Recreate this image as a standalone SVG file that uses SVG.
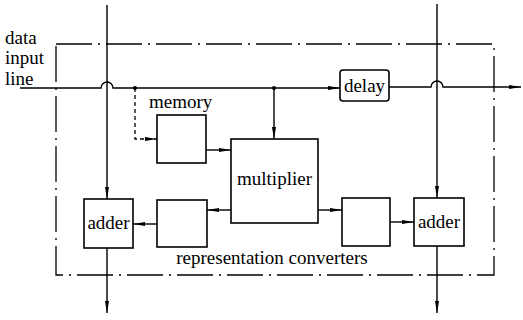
<svg xmlns="http://www.w3.org/2000/svg" width="523" height="320" viewBox="0 0 523 320">
<style>
.ln{fill:none;stroke:#000;stroke-width:1.4}
.box{fill:#fff;stroke:#000;stroke-width:1.6}
.frame{fill:none;stroke:#000;stroke-width:1.3;stroke-dasharray:36 6 2 6}
.dash{fill:none;stroke:#000;stroke-width:1.3;stroke-dasharray:4 3}
text{font-family:"Liberation Serif","Times New Roman",serif;font-size:19px;fill:#000}
</style>
<defs>
<marker id="ah" viewBox="0 0 12 6" refX="12" refY="3" markerWidth="12" markerHeight="6" markerUnits="userSpaceOnUse" orient="auto">
<path d="M0,1 L12,3 L0,5 Z" fill="#000"/>
</marker>
</defs>
<rect x="0" y="0" width="523" height="320" fill="#fff"/>
<path class="frame" d="M56,44 H494 V275 H56 Z"/>
<g id="labels">
<text x="5" y="44">data</text>
<text x="5" y="64">input</text>
<text x="5" y="85">line</text>
<text x="149" y="108">memory</text>
<text x="272" y="264" text-anchor="middle">representation converters</text>
</g>
<g id="connectors">
<path class="ln" d="M20,88 H101 A6,6 0 0 1 113,88 H340" marker-end="url(#ah)"/>
<path class="ln" d="M389,87 H431 A6,6 0 0 1 443,87 H521" marker-end="url(#ah)"/>
<path class="ln" d="M107,5 V199" marker-end="url(#ah)"/>
<path class="ln" d="M107,248 V313" marker-end="url(#ah)"/>
<path class="ln" d="M437,4 V198" marker-end="url(#ah)"/>
<path class="ln" d="M437,246 V313" marker-end="url(#ah)"/>
<path class="dash" d="M135,88 V139 H157" marker-end="url(#ah)"/>
<path class="ln" d="M274,88 V139" marker-end="url(#ah)"/>
<path class="ln" d="M206,150 H231" marker-end="url(#ah)"/>
<path class="ln" d="M231,210 H207" marker-end="url(#ah)"/>
<path class="ln" d="M157,224 H133" marker-end="url(#ah)"/>
<path class="ln" d="M318,210 H342" marker-end="url(#ah)"/>
<path class="ln" d="M390,222 H414" marker-end="url(#ah)"/>
<circle cx="135" cy="88" r="2" fill="#000"/>
<circle cx="274" cy="88" r="2" fill="#000"/>
</g>
<g id="memory"><rect class="box" x="157" y="115" width="49" height="48"/></g>
<g id="multiplier"><rect class="box" x="231" y="139" width="87" height="84"/><text x="274.5" y="185" text-anchor="middle">multiplier</text></g>
<g id="delay"><rect class="box" x="340" y="70" width="49" height="31" rx="3"/><text x="364.5" y="92" text-anchor="middle">delay</text></g>
<g id="conv-left"><rect class="box" x="157" y="200" width="50" height="47"/></g>
<g id="conv-right"><rect class="box" x="342" y="198" width="48" height="48"/></g>
<g id="adder-left"><rect class="box" x="84" y="199" width="49" height="49"/><text x="108.5" y="229" text-anchor="middle">adder</text></g>
<g id="adder-right"><rect class="box" x="414" y="198" width="50" height="48"/><text x="439" y="228" text-anchor="middle">adder</text></g>
</svg>
